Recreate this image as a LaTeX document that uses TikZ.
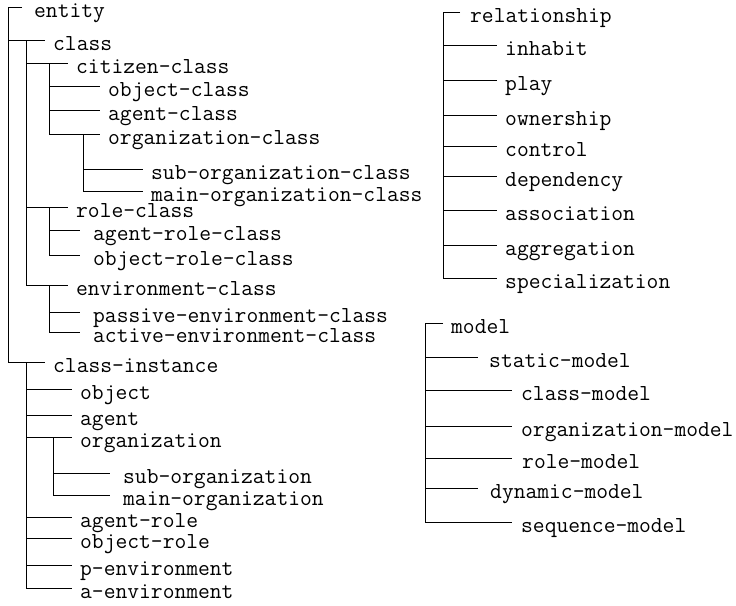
\documentclass[tikz,border=0pt]{standalone}
\usetikzlibrary{calc}
\tikzset{
  lbl/.style={anchor=base west, yshift=-10.5pt, inner sep=0pt,
              text height=13pt, text depth=4pt,
              font=\fontsize{22.9}{27}\selectfont\ttfamily},
  branch/.style={line width=0.9pt}
}
\begin{document}
\begin{tikzpicture}[x=1pt, y=-1pt]
  \useasboundingbox (0,0) rectangle (736,605);

  % entity tree
  \coordinate (e0) at (8,7);
  \node[lbl] (entity) at (34,7) {entity};
  \node[lbl] (class) at (53,40) {class};
  \coordinate (c0) at (26,40);
  \node[lbl] (citizen) at (76,63) {citizen-class};
  \coordinate (c1) at (49,63);
  \node[lbl] (objcls) at (108,86) {object-class};
  \node[lbl] (agtcls) at (108,110) {agent-class};
  \node[lbl] (orgcls) at (108,134) {organization-class};
  \coordinate (c2) at (83,134);
  \node[lbl] (suborgcls) at (151,169) {sub-organization-class};
  \node[lbl] (mainorgcls) at (151,191) {main-organization-class};
  \node[lbl] (rolecls) at (76,207) {role-class};
  \coordinate (c3) at (49,207);
  \node[lbl] (agtrolecls) at (93,230) {agent-role-class};
  \node[lbl] (objrolecls) at (93,255) {object-role-class};
  \node[lbl] (envcls) at (76,285) {environment-class};
  \coordinate (c4) at (49,285);
  \node[lbl] (pasenvcls) at (93,312) {passive-environment-class};
  \node[lbl] (actenvcls) at (93,332) {active-environment-class};

  % class-instance subtree
  \node[lbl] (cinst) at (53,362) {class-instance};
  \coordinate (i0) at (26,362);
  \node[lbl] (obj) at (80,389) {object};
  \node[lbl] (agt) at (80,415) {agent};
  \node[lbl] (org) at (80,437) {organization};
  \coordinate (i1) at (53,437);
  \node[lbl] (suborg) at (123,473) {sub-organization};
  \node[lbl] (mainorg) at (123,495) {main-organization};
  \node[lbl] (agtrole) at (80,517) {agent-role};
  \node[lbl] (objrole) at (80,538) {object-role};
  \node[lbl] (penv) at (80,565) {p-environment};
  \node[lbl] (aenv) at (80,588) {a-environment};

  % spines and branches (entity)
  \draw[branch] ([xshift=-12pt,yshift=10.5pt]entity.base west) -- (e0)
    -- (i0 -| e0) -- ([xshift=-8pt,yshift=10.5pt]cinst.base west);
  \draw[branch] (c0 -| e0) -- ([xshift=-8pt,yshift=10.5pt]class.base west);
  \draw[branch] (c0) -- (c4 -| c0);
  \foreach \n/\c in {citizen/c1, rolecls/c3, envcls/c4}
    \draw[branch] (\c -| c0) -- ([xshift=-8pt,yshift=10.5pt]\n.base west);
  \draw[branch] (c1) -- (c2 -| c1);
  \foreach \n in {objcls, agtcls, orgcls}
    \draw[branch] ([yshift=10.5pt]c1 |- \n.base) -- ([xshift=-8pt,yshift=10.5pt]\n.base west);
  \draw[branch] (c2) -- ([yshift=10.5pt]c2 |- mainorgcls.base);
  \foreach \n in {suborgcls, mainorgcls}
    \draw[branch] ([yshift=10.5pt]c2 |- \n.base) -- ([xshift=-8pt,yshift=10.5pt]\n.base west);
  \draw[branch] (c3) -- ([yshift=10.5pt]c3 |- objrolecls.base);
  \foreach \n in {agtrolecls, objrolecls}
    \draw[branch] ([yshift=10.5pt]c3 |- \n.base) -- ([xshift=-13pt,yshift=10.5pt]\n.base west);
  \draw[branch] (c4) -- ([yshift=10.5pt]c4 |- actenvcls.base);
  \foreach \n in {pasenvcls, actenvcls}
    \draw[branch] ([yshift=10.5pt]c4 |- \n.base) -- ([xshift=-13pt,yshift=10.5pt]\n.base west);

  % spines and branches (class-instance)
  \draw[branch] (i0) -- ([yshift=10.5pt]i0 |- aenv.base);
  \foreach \n in {obj, agt, org, agtrole, objrole, penv, aenv}
    \draw[branch] ([yshift=10.5pt]i0 |- \n.base) -- ([xshift=-8pt,yshift=10.5pt]\n.base west);
  \draw[branch] (i1) -- ([yshift=10.5pt]i1 |- mainorg.base);
  \foreach \n in {suborg, mainorg}
    \draw[branch] ([yshift=10.5pt]i1 |- \n.base) -- ([xshift=-13pt,yshift=10.5pt]\n.base west);

  % relationship tree
  \coordinate (r0) at (443,12);
  \node[lbl] (rel) at (470,12) {relationship};
  \node[lbl] (inhabit) at (505,45) {inhabit};
  \node[lbl] (play) at (505,80) {play};
  \node[lbl] (owner) at (505,115) {ownership};
  \node[lbl] (control) at (505,146) {control};
  \node[lbl] (depend) at (505,176) {dependency};
  \node[lbl] (assoc) at (505,210) {association};
  \node[lbl] (aggr) at (505,245) {aggregation};
  \node[lbl] (spec) at (505,278) {specialization};
  \draw[branch] ([xshift=-10pt,yshift=10.5pt]rel.base west) -- (r0)
    -- ([yshift=10.5pt]r0 |- spec.base);
  \foreach \n in {inhabit, play, owner, control, depend, assoc, aggr, spec}
    \draw[branch] ([yshift=10.5pt]r0 |- \n.base) -- ([xshift=-8pt,yshift=10.5pt]\n.base west);

  % model tree
  \coordinate (m0) at (425,323);
  \node[lbl] (model) at (451,323) {model};
  \node[lbl] (static) at (489,357) {static-model};
  \node[lbl] (clsmodel) at (521,390) {class-model};
  \node[lbl] (orgmodel) at (521,426) {organization-model};
  \node[lbl] (rolemodel) at (522,458) {role-model};
  \node[lbl] (dynamic) at (490,488) {dynamic-model};
  \node[lbl] (seqmodel) at (521,522) {sequence-model};
  \draw[branch] ([xshift=-8pt,yshift=10.5pt]model.base west) -- (m0)
    -- ([yshift=10.5pt]m0 |- seqmodel.base);
  \draw[branch] ([yshift=10.5pt]m0 |- static.base) -- ([xshift=-11pt,yshift=10.5pt]static.base west);
  \draw[branch] ([yshift=10.5pt]m0 |- dynamic.base) -- ([xshift=-12pt,yshift=10.5pt]dynamic.base west);
  \draw[branch] ([yshift=10.5pt]m0 |- rolemodel.base) -- ([xshift=-10pt,yshift=10.5pt]rolemodel.base west);
  \foreach \n in {clsmodel, orgmodel, seqmodel}
    \draw[branch] ([yshift=10.5pt]m0 |- \n.base) -- ([xshift=-9pt,yshift=10.5pt]\n.base west);
\end{tikzpicture}
\end{document}
